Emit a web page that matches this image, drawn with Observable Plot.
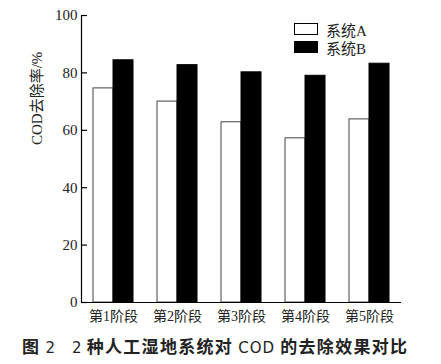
<!DOCTYPE html>
<html><head><meta charset="utf-8">
<script src="https://cdn.jsdelivr.net/npm/d3@7"></script>
<script src="https://cdn.jsdelivr.net/npm/@observablehq/plot@0.6"></script>
<style>
body{margin:0;background:#fff;}
#wrap{position:relative;width:441px;height:364px;}
#legend{position:absolute;left:294px;top:20px;font-family:"Liberation Serif","Times New Roman","DejaVu Serif","Noto Sans CJK SC",serif;font-size:15px;color:#222;}
.row{display:flex;align-items:center;height:18px;}
.sw{width:22px;height:10px;margin-right:8px;box-sizing:content-box;}
.cap{position:absolute;top:337px;font-family:"Noto Sans CJK SC",sans-serif;font-size:17px;line-height:17px;font-weight:bold;color:#222;white-space:pre;letter-spacing:1.3px;}
.cap .n{font-weight:normal;font-family:"DejaVu Sans",sans-serif;letter-spacing:0;font-size:15px;}
</style>
</head><body>
<div id="wrap">
<div id="chart"></div>
<div id="legend"></div>
<div class="cap" id="cap1" style="left:22px"></div>
<div class="cap" id="cap2" style="left:72px"></div>
</div>
<script>
const stages = ["第1阶段","第2阶段","第3阶段","第4阶段","第5阶段"];
const systems = ["系统A","系统B"];
const valuesA = [74.6, 70.0, 62.8, 57.2, 63.8];
const valuesB = [84.4, 82.7, 80.2, 79.0, 83.2];
const yTicks = [0, 20, 40, 60, 80, 100];
const yLabel = "COD去除率/%";
const figNo = ["图", "2"];
const captionParts = ["2", " 种人工湿地系统对 ", "COD", " 的去除效果对比"];

const data = [];
stages.forEach((s, i) => {
  data.push({stage: s, system: systems[0], value: valuesA[i]});
  data.push({stage: s, system: systems[1], value: valuesB[i]});
});
const fills = {"系统A": "#fff", "系统B": "#000"};
const strokes = {"系统A": "#444", "系统B": "#000"};
const ff = '"Liberation Serif","Times New Roman","DejaVu Serif","Noto Sans CJK SC",serif';

const chart = Plot.plot({
  width: 441,
  height: 330,
  marginLeft: 81,
  marginRight: 40,
  marginTop: 15,
  marginBottom: 28,
  style: {fontFamily: ff, fontSize: "15px", color: "#222"},
  fx: {domain: stages, padding: 0, label: null, axis: null},
  x: {domain: systems, paddingInner: 0, paddingOuter: 0.55, axis: null},
  y: {domain: [0, 100], axis: null},
  marks: [
    Plot.barY(data, {fx: "stage", x: "system", y: "value",
      fill: d => fills[d.system], stroke: d => strokes[d.system], strokeWidth: 1}),
    Plot.axisY({ticks: yTicks, tickSize: -6, tickPadding: 10, label: null, stroke: "#000", strokeWidth: 1.2, fontSize: 15, fontFamily: ff}),
    Plot.text([yLabel], {frameAnchor: "left", dx: -44, dy: -14, rotate: -90, fontSize: 15, fontFamily: ff, facetAnchor: "left"}),
    Plot.frame({anchor: "left", facetAnchor: "left", stroke: "#000", strokeWidth: 1.2}),
    Plot.ruleY([0], {stroke: "#000", strokeWidth: 1.2}),
    Plot.axisFx({anchor: "bottom", tickSize: 0, tickPadding: 9, label: null, fontSize: 14, fontFamily: ff})
  ]
});
document.getElementById("chart").appendChild(chart);

const lg = document.getElementById("legend");
systems.forEach(s => {
  const r = document.createElement("div"); r.className = "row";
  const sw = document.createElement("div"); sw.className = "sw";
  sw.style.background = fills[s]; sw.style.border = "1px solid #000";
  const t = document.createElement("span"); t.textContent = s;
  r.appendChild(sw); r.appendChild(t); lg.appendChild(r);
});
const c1 = document.getElementById("cap1");
const a = document.createElement("span"); a.textContent = figNo[0] + " "; c1.appendChild(a);
const b = document.createElement("span"); b.className = "n"; b.textContent = figNo[1]; c1.appendChild(b);
const c2 = document.getElementById("cap2");
captionParts.forEach((p, i) => {
  const sp = document.createElement("span");
  if (i === 0 || i === 2) sp.className = "n";
  sp.textContent = p;
  if (i === 2) sp.style.letterSpacing = "1px";
  c2.appendChild(sp);
});
</script>
</body></html>
